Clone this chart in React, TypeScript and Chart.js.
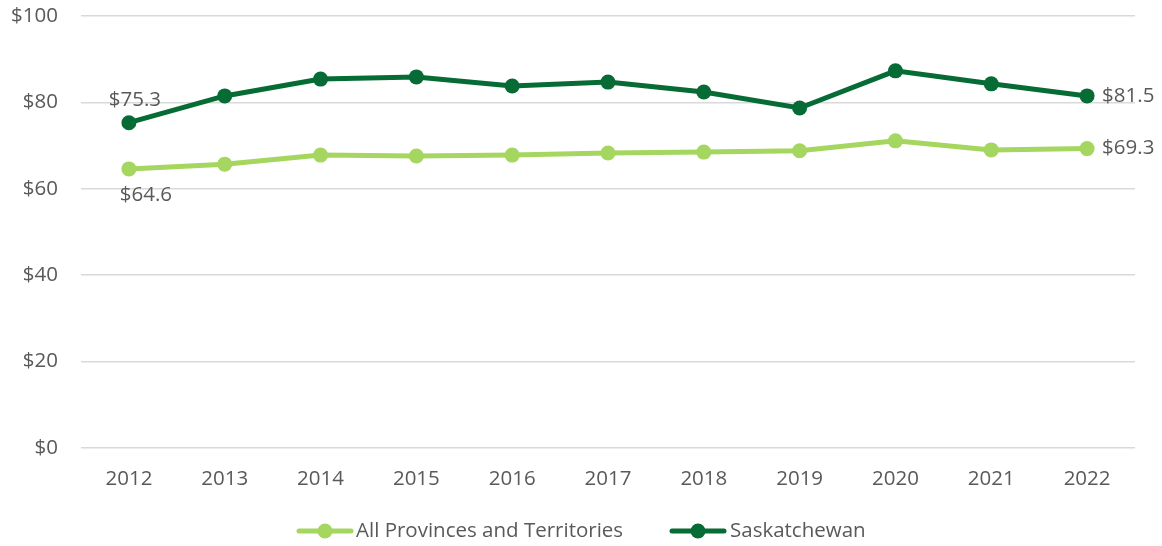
import React, { useEffect, useRef } from "react";
import { Chart, registerables } from "chart.js";

Chart.register(...registerables);

const years = ["2012", "2013", "2014", "2015", "2016", "2017", "2018", "2019", "2020", "2021", "2022"];
const allProvinces = [64.6, 65.7, 67.8, 67.6, 67.8, 68.3, 68.5, 68.8, 71.1, 69.0, 69.3];
const saskatchewan = [75.3, 81.5, 85.4, 85.9, 83.8, 84.7, 82.4, 78.7, 87.3, 84.3, 81.5];
const seriesNames = ["All Provinces and Territories", "Saskatchewan"];
const colors = ["#a5d65f", "#066b35"];

const FONT = "'Open Sans', sans-serif";
const FSIZE = 20.5;
const TEXT = "#595959";

const labelPlugin = {
  id: "endLabels",
  afterDatasetsDraw(chart: any) {
    const ctx = chart.ctx;
    ctx.save();
    ctx.font = `${FSIZE}px ${FONT}`;
    chart.data.datasets.forEach((ds: any, i: number) => {
      const meta = chart.getDatasetMeta(i);
      const first = meta.data[0];
      const last = meta.data[meta.data.length - 1];
      const fv = "$" + ds.data[0].toFixed(1);
      const lv = "$" + ds.data[ds.data.length - 1].toFixed(1);
      ctx.fillStyle = TEXT;
      ctx.textAlign = "center";
      ctx.textBaseline = "middle";
      if (i === 1) ctx.fillText(fv, first.x + 6, first.y - 23);
      else ctx.fillText(fv, first.x + 17, first.y + 26);
      ctx.textAlign = "left";
      ctx.fillText(lv, last.x + 15, last.y);
    });
    // legend
    const ly = 531;
    const items = [
      { x: 297, tx: 356 },
      { x: 670, tx: 730 },
    ];
    items.forEach((it, i) => {
      ctx.strokeStyle = colors[i];
      ctx.lineWidth = 5;
      ctx.lineCap = "round";
      ctx.beginPath();
      ctx.moveTo(it.x + 2, ly);
      ctx.lineTo(it.x + 54, ly);
      ctx.stroke();
      ctx.fillStyle = colors[i];
      ctx.beginPath();
      ctx.arc(it.x + 28, ly, 7.5, 0, Math.PI * 2);
      ctx.fill();
      ctx.fillStyle = TEXT;
      ctx.textAlign = "left";
      ctx.textBaseline = "middle";
      ctx.fillText(seriesNames[i], it.tx, ly);
    });
    ctx.restore();
  },
};

export default function App() {
  const ref = useRef<HTMLCanvasElement>(null);
  useEffect(() => {
    const mk = (i: number, data: number[]) => ({
      label: seriesNames[i],
      data,
      borderColor: colors[i],
      backgroundColor: colors[i],
      borderWidth: 5,
      pointRadius: 7.5,
      pointHoverRadius: 7.5,
      pointBorderWidth: 0,
      tension: 0,
    });
    const chart = new Chart(ref.current!, {
      type: "line",
      data: {
        labels: years,
        datasets: [mk(0, allProvinces), mk(1, saskatchewan)],
      },
      options: {
        animation: false,
        responsive: false,
        maintainAspectRatio: false,
        layout: { padding: { left: 0, top: 16, right: 27, bottom: 48 } },
        plugins: { legend: { display: false }, tooltip: { enabled: false } },
        scales: {
          x: {
            offset: true,
            grid: { display: false, drawTicks: false },
            border: { display: false },
            ticks: { color: TEXT, font: { family: FONT, size: FSIZE }, padding: 19, maxRotation: 0 },
            afterFit: (s: any) => {
              s.height = 50;
              s.paddingLeft = 0;
              s.paddingRight = 0;
            },
          },
          y: {
            min: 0,
            max: 100,
            grid: { color: "#d9d9d9", lineWidth: 1.5, drawTicks: false },
            border: { display: false },
            ticks: {
              stepSize: 20,
              color: TEXT,
              font: { family: FONT, size: FSIZE },
              padding: 23,
              callback: (v: any) => "$" + v,
            },
            afterFit: (s: any) => {
              s.width = 81;
              s.paddingTop = 0;
              s.paddingBottom = 0;
            },
          },
        },
      },
      plugins: [labelPlugin],
    });
    return () => chart.destroy();
  }, []);
  return (
    <div style={{ position: "fixed", left: 0, top: 0, width: 1162, height: 546, background: "#fff" }}>
      <canvas ref={ref} width={1162} height={546} style={{ width: 1162, height: 546 }} />
    </div>
  );
}
